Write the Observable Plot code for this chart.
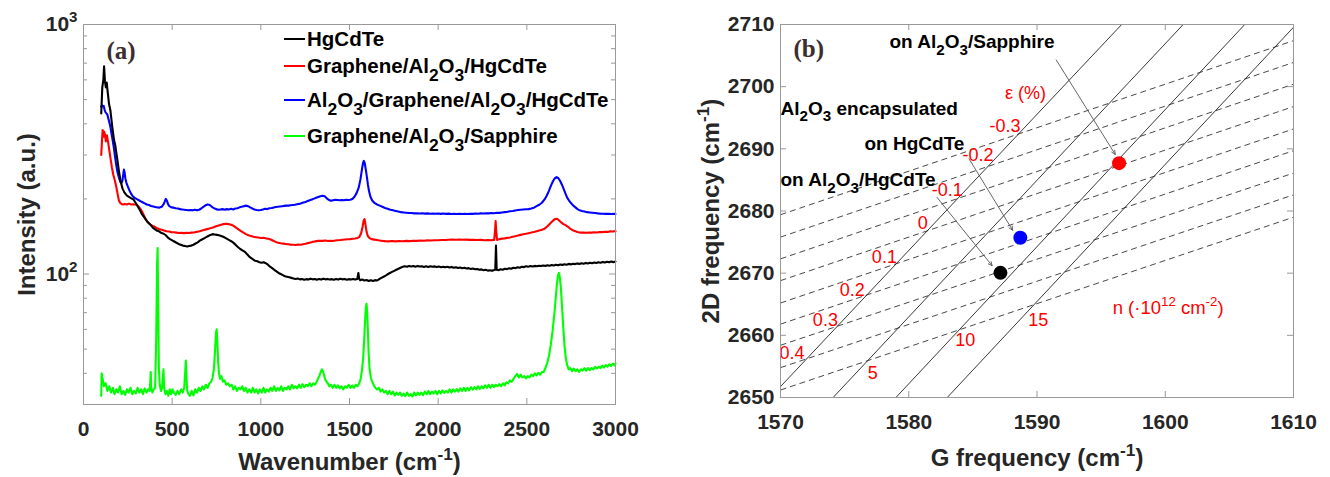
<!DOCTYPE html>
<html>
<head>
<meta charset="utf-8">
<script src="https://cdn.jsdelivr.net/npm/d3@7"></script>
<script src="https://cdn.jsdelivr.net/npm/@observablehq/plot@0.6"></script>
<style>
  html, body { margin: 0; padding: 0; background: #fff; }
  #wrap { display: flex; width: 1330px; height: 477px; }
  #wrap svg { display: block; }
</style>
</head>
<body>
<div id="wrap"></div>
<script>
// ---------- Panel (a): Raman spectra, [wavenumber cm^-1, intensity a.u.] ----------
const seriesNames = ["HgCdTe", "Graphene/Al_{2}O_{3}/HgCdTe", "Al_{2}O_{3}/Graphene/Al_{2}O_{3}/HgCdTe", "Graphene/Al_{2}O_{3}/Sapphire"];
const seriesColors = ["#000000", "#ff0000", "#0000ff", "#00ff00"];

const hgcdte = [[100,440],[106,560],[112,600],[116,680],[121,590],[126,560],[131,585],[136,540],[144,480],[152,451],[162,390],[172,345],[180,325],[190,290],[200,258],[209,236],[220,220],[231,212],[245,206],[265,202],[282,199],[300,190],[315,182],[329,174],[345,168],[360,162],[376,158],[392,153],[404,151],[416,149],[428,148],[440,146],[452,145],[464,143],[476,140],[488,138],[500,136.5],[512,135],[524,133.5],[536,132],[548,131],[560,130],[572,129.5],[584,129],[596,129.5],[608,130],[620,131],[632,132.5],[644,134],[656,136],[668,137.5],[680,139],[692,140.5],[704,142],[716,143.5],[728,144.5],[740,144],[752,143.5],[764,143],[776,142],[788,141],[800,139.5],[812,138],[824,136.5],[836,135],[848,133],[860,130.5],[872,128],[884,126],[896,124.5],[908,123],[920,120.5],[932,118],[944,116],[956,114.5],[968,113],[980,112.5],[992,111.5],[1004,111],[1016,111.5],[1028,110.5],[1040,109],[1052,107],[1064,105.5],[1076,104],[1088,102.5],[1100,101],[1112,100],[1124,99],[1136,98],[1148,97.5],[1160,97],[1172,96.5],[1184,96],[1196,95.5],[1208,96],[1220,95.2],[1232,95.6],[1244,94.8],[1256,95.4],[1268,95],[1280,95.8],[1292,95.2],[1304,95.5],[1316,94.8],[1328,95.6],[1340,95],[1352,95.8],[1364,95.2],[1376,95.6],[1388,95],[1400,95.4],[1412,94.8],[1424,95.5],[1436,95],[1448,95.8],[1460,95.2],[1472,95.6],[1484,94.8],[1496,95.4],[1508,95],[1520,95.6],[1532,95],[1544,95.5],[1550,101],[1554,96],[1560,94.5],[1572,95],[1584,94.2],[1596,94.6],[1608,93.8],[1620,94.5],[1632,93.8],[1644,94.5],[1656,94.2],[1668,95.5],[1680,96.5],[1692,97.5],[1704,98.5],[1716,99.8],[1728,101],[1740,102],[1752,103],[1764,104],[1776,105],[1788,106],[1800,107],[1812,107.5],[1824,107],[1836,107.8],[1848,107.2],[1860,107.6],[1872,107],[1884,107.8],[1896,107.2],[1908,107.5],[1920,106.8],[1932,107.4],[1944,106.8],[1956,107.5],[1968,106.9],[1980,107.3],[1992,106.6],[2004,107.2],[2016,106.5],[2028,107],[2040,106.4],[2052,106.9],[2064,106.2],[2076,106.8],[2088,106],[2100,106.5],[2112,105.8],[2124,106.2],[2136,105.5],[2148,106],[2160,105.2],[2172,105.6],[2184,104.8],[2196,105.2],[2208,104.5],[2220,104.8],[2232,104],[2244,104.4],[2256,103.6],[2268,104],[2280,103.2],[2292,103.6],[2304,103],[2316,103.8],[2322,104],[2326,130],[2330,104],[2340,103.6],[2352,104.5],[2364,104],[2376,105],[2388,104.6],[2400,105.5],[2412,105],[2424,106],[2436,105.6],[2448,106.5],[2460,106],[2472,107],[2484,106.6],[2496,107.4],[2508,107],[2520,107.6],[2532,107.2],[2544,107.8],[2556,107.4],[2568,108],[2580,107.6],[2592,108.2],[2604,107.8],[2616,108.4],[2628,108],[2640,108.6],[2652,108.2],[2664,108.9],[2676,108.5],[2688,109.2],[2700,108.8],[2712,109.5],[2724,109],[2736,109.8],[2748,109.3],[2760,110],[2772,109.6],[2784,110.3],[2796,109.8],[2808,110.5],[2820,110],[2832,110.8],[2844,110.2],[2856,111],[2868,110.5],[2880,111.2],[2892,110.7],[2904,111.5],[2916,111],[2928,111.7],[2940,111.2],[2952,112],[2964,111.4],[2976,112.2],[2988,111.6],[3000,112.3]];

const grOnAlHgCdTe = [[100,300],[104,340],[108,378],[112,355],[116,372],[120,365],[126,340],[132,360],[138,340],[145,315],[152,292],[160,268],[168,250],[176,238],[184,225],[192,210],[199,198],[206,193],[214,191],[222,190],[232,191],[244,190],[256,191.5],[268,190],[280,190.5],[292,190],[301,189],[312,186],[322,182],[330,178],[340,172],[350,166],[360,162],[372,159],[385,156.5],[398,155],[412,153],[426,151.5],[440,150.5],[454,149.5],[468,148.5],[482,148],[496,147.2],[510,147],[524,146.5],[538,146],[552,146.2],[566,145.8],[580,146.2],[594,146],[608,146.5],[622,146.8],[636,147.5],[650,148],[664,149],[678,150],[692,151],[706,152],[720,153],[734,154],[748,155.5],[762,156.5],[776,157.5],[790,158.5],[804,159],[818,158.5],[832,157.5],[846,156],[860,153.5],[874,151],[888,148.5],[902,146.5],[916,144.5],[930,143],[944,142],[958,141],[972,140.5],[986,140],[1000,139.5],[1014,139.8],[1028,139],[1042,138.5],[1056,137.5],[1070,136],[1084,134.5],[1098,133.5],[1112,132.8],[1126,132.4],[1140,132],[1154,131.6],[1168,131.2],[1182,131],[1196,130.8],[1210,131.2],[1224,131],[1238,131.6],[1252,132.2],[1266,133],[1280,133.8],[1294,134.6],[1308,135.2],[1322,135.8],[1336,136],[1350,135.8],[1364,136.2],[1378,135.6],[1392,136],[1406,135.6],[1420,136.2],[1434,136.5],[1448,136.8],[1462,137.2],[1476,137.5],[1490,137.8],[1504,138],[1518,138.4],[1532,138.8],[1546,139.5],[1556,141],[1566,146],[1574,155],[1580,164],[1585,166],[1590,158],[1596,148],[1603,142],[1612,139.5],[1625,138],[1640,137.4],[1655,136.8],[1670,136.2],[1685,135.8],[1700,135.5],[1720,135.2],[1740,135.6],[1760,135.2],[1780,135.6],[1800,135.4],[1820,135.8],[1840,135.5],[1860,136],[1880,135.8],[1900,136.2],[1920,136],[1940,136.4],[1960,136.2],[1980,136.6],[2000,136.5],[2020,136.9],[2040,136.8],[2060,137.2],[2080,137.4],[2100,137.2],[2120,137.5],[2140,137.2],[2160,137.4],[2180,137],[2200,137.2],[2220,136.8],[2240,137],[2260,136.6],[2280,136.8],[2300,136.6],[2316,137],[2321,150],[2324,163],[2327,150],[2332,137],[2345,138],[2360,138.6],[2375,139],[2390,139.6],[2405,140.2],[2420,141],[2435,141.8],[2450,142.6],[2465,143.5],[2480,144.3],[2495,145],[2510,145.8],[2525,146.6],[2540,147.5],[2555,148.5],[2570,149.5],[2585,150.5],[2600,152],[2615,155],[2630,159],[2645,163],[2658,166],[2670,166.5],[2682,164],[2694,161],[2706,158.5],[2718,157],[2730,155],[2742,152.5],[2754,150.5],[2766,149],[2778,148],[2790,147],[2805,146.5],[2820,146.8],[2835,146.4],[2850,146.8],[2865,146.5],[2880,147],[2895,146.8],[2910,147.4],[2925,147.2],[2940,147.8],[2955,147.5],[2970,148.2],[2985,148],[3000,148.6]];

const encapsulated = [[100,469],[104,475],[108,470],[114,472],[119,455],[124,445],[129,440],[134,437],[140,420],[146,405],[152,387],[158,365],[164,345],[171,321],[178,295],[185,272],[192,255],[200,243],[209,233],[215,232],[220,238],[224,250],[228,262],[232,255],[236,242],[242,232],[248,226],[255,220],[262,214],[270,209],[278,205],[288,202],[298,200],[310,198],[321,196],[333,194],[345,192],[357,190],[369,189],[381,187.5],[393,186.5],[405,185.5],[417,185],[429,184.6],[441,186],[451,190],[458,195],[464,200],[470,197],[476,191],[484,187],[496,185],[508,184.5],[520,183.5],[532,183],[544,182],[556,181.5],[568,181],[580,180.5],[592,180],[604,180.5],[616,180],[628,181],[640,180],[652,181],[664,183],[676,186],[688,188.5],[700,190],[712,189],[724,186],[736,183.5],[748,182],[760,181],[772,181.5],[784,182],[796,181],[808,182],[820,181.5],[832,182.5],[844,181.5],[856,183],[868,183.5],[880,185],[892,186],[904,187],[916,188],[928,187],[940,185],[952,183],[964,181.5],[976,180.5],[988,180],[1000,180.5],[1012,181.5],[1024,182.5],[1036,182],[1048,183.5],[1060,184],[1072,184.6],[1084,185.5],[1096,186],[1108,186.5],[1120,187],[1132,187.5],[1144,188],[1156,188],[1168,188.5],[1180,189],[1192,189.5],[1204,190.5],[1216,191],[1228,192],[1240,193.5],[1252,194.5],[1264,196],[1276,197.5],[1288,199],[1300,200.5],[1312,202],[1324,203.5],[1336,205],[1348,206],[1360,205],[1372,201],[1384,198],[1396,196.5],[1408,197.5],[1420,198.5],[1432,198],[1444,197.5],[1456,198],[1468,197.5],[1480,198.5],[1492,198],[1504,198.5],[1516,200],[1528,204],[1540,211],[1552,222],[1562,240],[1570,262],[1576,278],[1581,284],[1586,278],[1592,262],[1598,245],[1604,228],[1610,215],[1618,204],[1628,197],[1640,193],[1655,190],[1670,188],[1685,186],[1700,184],[1715,182.5],[1730,181],[1745,180],[1760,179],[1775,178],[1790,177],[1805,176.5],[1820,176],[1835,175.5],[1850,175.5],[1865,175],[1880,175.3],[1895,174.8],[1910,175.2],[1925,174.6],[1940,175],[1955,174.5],[1970,174.9],[1985,174.3],[2000,174.8],[2015,174.2],[2030,174.7],[2045,174.2],[2060,174.6],[2075,174],[2090,174.5],[2105,174],[2120,174.5],[2135,174],[2150,174.4],[2165,174],[2180,174.5],[2195,174.2],[2210,174.7],[2225,174.4],[2240,175],[2255,174.7],[2270,175.3],[2285,175],[2300,175.6],[2315,175.3],[2330,176],[2345,175.8],[2360,176.5],[2375,177],[2390,177.5],[2405,178.5],[2420,179],[2435,179.8],[2450,180.5],[2465,181],[2480,181.5],[2495,181.8],[2510,182],[2525,183],[2540,184.5],[2555,187],[2570,189.5],[2585,193],[2600,199],[2612,206],[2624,215],[2636,226],[2648,236],[2658,242],[2668,244.5],[2678,242],[2688,236],[2698,228],[2708,219],[2718,210],[2728,202],[2738,197],[2750,192],[2762,188],[2774,185],[2786,182],[2798,180],[2810,179],[2825,178],[2840,177],[2855,176.5],[2870,176],[2885,175.5],[2900,175],[2915,174.6],[2930,174.5],[2945,174.2],[2960,174.4],[2975,174],[2990,174.2],[3000,174]];

const grOnSapphire = [[100,32.5],[102,40],[108,38],[115,35.5],[125,36.5],[135,34],[145,35.5],[155,33.5],[165,35],[175,33],[185,34.5],[195,33.5],[205,35.5],[215,33],[225,34],[235,32.8],[245,34.5],[255,33.5],[265,35],[275,33],[285,34],[295,33.2],[305,35],[315,33.5],[325,34.5],[335,33],[345,34.8],[355,33.5],[365,34.5],[372,34],[376,36],[379,40.5],[382,35],[388,33.5],[396,34.5],[404,35],[410,55],[415,110],[418,127],[421,75],[425,42],[430,36],[437,34],[443,35],[447,38],[451,41.5],[455,35],[462,33],[470,34],[478,32.5],[486,34.5],[494,33],[502,34.5],[510,33.5],[520,32.8],[530,34],[540,33],[550,34.5],[560,33.5],[568,35],[573,40],[577,45],[581,38],[585,34],[592,33],[600,32.5],[610,34],[620,32.6],[630,34.5],[640,33.5],[650,35],[660,34],[670,35.5],[680,34.5],[690,36],[700,35],[710,36.5],[720,37],[728,38.5],[736,42],[742,50],[747,58],[751,60],[755,53],[759,45],[764,40],[770,38],[778,39],[786,37],[795,37.5],[805,36],[815,36.5],[825,35.5],[835,36],[845,34.5],[855,35.5],[865,34],[875,35],[885,34.5],[895,35.5],[905,34],[915,35],[925,33.5],[935,34.5],[945,33.5],[955,35],[965,33.5],[975,34.5],[985,33.2],[995,34.5],[1005,33.5],[1015,35],[1025,33.5],[1035,34.5],[1045,33.8],[1055,35],[1065,34],[1075,35.5],[1085,34],[1095,35],[1105,34.2],[1115,35.5],[1125,34],[1135,35],[1145,34.5],[1155,35.5],[1165,34.5],[1175,36],[1185,34.8],[1195,35.5],[1205,34.8],[1215,36],[1225,35],[1235,36.2],[1245,35.2],[1255,36],[1265,35.5],[1275,36.5],[1285,35.5],[1295,36.5],[1305,36],[1315,37],[1322,38],[1330,39],[1338,40.5],[1344,41.5],[1350,40.8],[1356,39.5],[1362,38],[1370,37],[1378,36.5],[1386,35.5],[1395,36],[1405,35],[1415,36],[1425,35],[1435,35.8],[1445,34.8],[1455,35.5],[1465,34.5],[1475,35.5],[1485,35],[1495,36],[1505,35],[1515,35.8],[1525,35],[1535,36],[1545,35.5],[1555,36.5],[1563,38],[1570,41],[1577,46],[1583,55],[1588,65],[1592,73],[1596,76],[1600,70],[1604,58],[1608,48],[1613,42],[1620,38.5],[1628,37],[1636,36],[1645,35],[1655,34.5],[1665,35],[1675,33.8],[1685,34.5],[1695,33.5],[1705,34],[1715,33],[1725,34],[1735,33],[1745,33.8],[1755,32.6],[1765,33.5],[1775,32.8],[1785,33.5],[1795,32.5],[1805,33.2],[1815,32.4],[1825,33.5],[1835,32.5],[1845,33],[1855,32.3],[1865,33.5],[1875,32.6],[1885,33.5],[1895,32.8],[1905,33.5],[1915,32.7],[1925,33.8],[1935,33],[1945,34],[1955,33],[1965,33.8],[1975,33.2],[1985,34],[1995,33],[2005,34],[2015,33.2],[2025,34.2],[2035,33.4],[2045,34],[2055,33.5],[2065,34.5],[2075,33.5],[2085,34.5],[2095,33.8],[2105,34.6],[2115,33.8],[2125,34.8],[2135,34],[2145,35],[2155,34],[2165,35],[2175,34.2],[2185,35.2],[2195,34.4],[2205,35.2],[2215,34.5],[2225,35.5],[2235,34.6],[2245,35.5],[2255,34.8],[2265,35.8],[2275,35],[2285,36],[2295,35],[2305,36],[2315,35.2],[2325,36],[2335,35.5],[2345,36.2],[2355,35.5],[2365,36.5],[2375,35.8],[2385,36.8],[2395,36.5],[2405,37.5],[2415,37],[2425,38],[2435,39],[2445,39.8],[2455,38.5],[2465,39.5],[2475,38.5],[2485,39],[2495,38.2],[2505,39],[2515,38.5],[2525,39.5],[2535,39],[2545,40],[2555,39.2],[2565,40.2],[2575,39.5],[2585,40.5],[2595,40.5],[2605,42],[2615,44],[2625,47],[2635,52],[2645,59],[2655,69],[2663,80],[2670,92],[2676,99],[2681,101],[2686,97],[2692,88],[2698,75],[2705,62],[2712,52],[2720,46],[2728,43],[2736,41.5],[2745,42],[2755,40.8],[2765,41.8],[2775,40.8],[2785,41.5],[2795,40.5],[2805,41.5],[2815,41],[2825,42],[2835,41],[2845,42],[2855,41.2],[2865,42],[2875,41.5],[2885,42.5],[2895,41.8],[2905,42.5],[2915,42],[2925,43],[2935,42.2],[2945,43.2],[2955,42.5],[2965,43.5],[2975,42.8],[2985,43.8],[2995,43],[3000,43.8]];

const spectraA = [hgcdte, grOnAlHgCdTe, encapsulated, grOnSapphire];
const xTicksA = [0, 500, 1000, 1500, 2000, 2500, 3000];
const yMajorA = [100, 1000];
const yMinorA = [40, 50, 60, 70, 80, 90, 200, 300, 400, 500, 600, 700, 800, 900];

// ---------- Panel (b): strain–doping grid, G vs 2D frequency ----------
// strain lines (constant doping n): G where 2D = 2650 and where 2D = 2710
const nLineG0 = [1569.2, 1574.1, 1579.0, 1583.0];
const nLineG1 = [1596.6, 1601.4, 1606.2, 1610.2];
// doping lines (constant strain ε): 2D where G = 1570 and where G = 1610
const epsLine2D0 = [2679.4, 2675.8, 2672.3, 2668.8, 2665.2, 2661.8, 2658.4, 2654.8, 2651.2];
const epsLine2D1 = [2707.4, 2703.9, 2700.4, 2696.8, 2693.2, 2689.7, 2686.1, 2682.6, 2679.0];

const epsLabels = ["-0.3", "-0.2", "-0.1", "0", "0.1", "0.2", "0.3", "0.4"];
const epsLabelG = [1587.5, 1585.4, 1583.0, 1581.1, 1578.1, 1575.6, 1573.5, 1570.9];
const epsLabel2D = [2693.6, 2688.9, 2683.3, 2678.0, 2672.5, 2667.3, 2662.4, 2657.2];
const nLabels = ["5", "10", "15"];
const nLabelG = [1577.2, 1584.4, 1590.1];
const nLabel2D = [2653.9, 2659.2, 2662.5];

const sampleG = [1596.4, 1588.7, 1587.15];
const sample2D = [2687.7, 2675.7, 2670.05];
const sampleColors = ["#ff0000", "#0000ff", "#000000"];

const noteTexts = ["on Al_{2}O_{3}/Sapphire", "Al_{2}O_{3} encapsulated", "on HgCdTe", "on Al_{2}O_{3}/HgCdTe"];
const noteG = [1578.5, 1570.0, 1576.55, 1570.0];
const note2D = [2707.15, 2696.5, 2690.8, 2685.0];

const arrowFromG = [1591.5, 1584.7, 1582.2];
const arrowFrom2D = [2704.3, 2688.4, 2682.2];
const arrowToG = [1596.1, 1588.1, 1586.5];
const arrowTo2D = [2689.1, 2676.9, 2671.2];

const xTicksB = [1570, 1580, 1590, 1600, 1610];
const yTicksB = [2650, 2660, 2670, 2680, 2690, 2700, 2710];

// ---------- shared styling ----------
const SANS = "'Liberation Sans', Arial, Helvetica, sans-serif";
const SERIF = "'Liberation Serif', 'Times New Roman', serif";
const AXIS = "#999999";
const svgStyle = `font-family:${SANS};font-size:21px;font-weight:bold;color:#262626;background:#fff;overflow:visible;`;

// Turn ^{..} / _{..} markup inside <text> into raised / lowered tspans.
function richText(svg) {
  const NS = "http://www.w3.org/2000/svg";
  svg.querySelectorAll("text").forEach(t => {
    const s = t.textContent;
    if (!/[\^_]\{/.test(s)) return;
    const fs = parseFloat(getComputedStyle(t).fontSize) || 16;
    const sub = +(t.getAttribute("data-sub") || 0.8);
    const sup = 0.72;
    const parts = [];
    const re = /([\^_])\{([^}]*)\}/g;
    let last = 0, m;
    while ((m = re.exec(s))) {
      if (m.index > last) parts.push({txt: s.slice(last, m.index), kind: ""});
      parts.push({txt: m[2], kind: m[1]});
      last = re.lastIndex;
    }
    if (last < s.length) parts.push({txt: s.slice(last), kind: ""});
    while (t.firstChild) t.removeChild(t.firstChild);
    let shift = 0;
    for (const p of parts) {
      const ts = document.createElementNS(NS, "tspan");
      let target = 0;
      if (p.kind === "^") { target = -0.44 * fs; ts.setAttribute("font-size", (sup * fs) + "px"); }
      else if (p.kind === "_") { target = 0.36 * fs; ts.setAttribute("font-size", (sub * fs) + "px"); }
      const dy = target - shift;
      if (dy) ts.setAttribute("dy", dy.toFixed(2));
      shift = target;
      ts.textContent = p.txt;
      t.appendChild(ts);
    }
  });
}

// ---------- Panel (a) ----------
const A = {w: 665, h: 477, ml: 83, mr: 50, mt: 24, mb: 73};
const fwA = A.w - A.ml - A.mr, fhA = A.h - A.mt - A.mb;

const linesA = spectraA.map((s, i) =>
  Plot.line(s, {x: d => d[0], y: d => d[1], stroke: seriesColors[i], strokeWidth: 2.1, strokeLinejoin: "round"})
);
// draw order: green at the back, black on top
const drawOrder = [3, 1, 2, 0];

function legendA(index, scales, values, dims) {
  const g = d3.create("svg:g").attr("text-anchor", "start");
  const rowY = [15, 42, 76, 112];
  const x0 = dims.marginLeft + 201, x1 = dims.marginLeft + 222, xt = dims.marginLeft + 224;
  seriesNames.forEach((name, i) => {
    const y = dims.marginTop + rowY[i];
    g.append("line").attr("x1", x0).attr("x2", x1).attr("y1", y).attr("y2", y)
      .attr("stroke", seriesColors[i]).attr("stroke-width", 2);
    g.append("text").attr("x", xt).attr("y", y).attr("dy", "0.35em")
      .attr("text-anchor", "start")
      .attr("font-size", 20.5).attr("font-weight", "bold").attr("fill", "#000")
      .attr("data-sub", 0.85).text(name);
  });
  return g.node();
}

const plotA = Plot.plot({
  width: A.w, height: A.h,
  marginLeft: A.ml, marginRight: A.mr, marginTop: A.mt, marginBottom: A.mb,
  style: svgStyle,
  x: {domain: [0, 3000]},
  y: {type: "log", domain: [30, 1000]},
  marks: [
    ...drawOrder.map(i => linesA[i]),
    Plot.frame({stroke: AXIS}),
    Plot.tickX(xTicksA, {x: d => d, insetTop: fhA - 6, stroke: AXIS}),
    Plot.tickX(xTicksA, {x: d => d, insetBottom: fhA - 6, stroke: AXIS}),
    Plot.tickY(yMajorA, {y: d => d, insetRight: fwA - 6, stroke: AXIS}),
    Plot.tickY(yMajorA, {y: d => d, insetLeft: fwA - 6, stroke: AXIS}),
    Plot.tickY(yMinorA, {y: d => d, insetRight: fwA - 4, stroke: AXIS}),
    Plot.tickY(yMinorA, {y: d => d, insetLeft: fwA - 4, stroke: AXIS}),
    Plot.axisX(xTicksA, {tickSize: 0, tickPadding: 17, tickFormat: d => String(d), label: null}),
    Plot.axisY(yMajorA, {tickSize: 0, tickPadding: 6, tickFormat: d => "10^{" + Math.round(Math.log10(d)) + "}", label: null}),
    Plot.text(["Wavenumber (cm^{-1})"], {text: d => d, frameAnchor: "bottom", dy: 58, textAnchor: "middle", lineAnchor: "middle", fontSize: 24, fontWeight: "bold", fill: "#262626"}),
    Plot.text(["Intensity (a.u.)"], {text: d => d, frameAnchor: "left", dx: -56, rotate: -90, textAnchor: "middle", lineAnchor: "middle", fontSize: 24, fontWeight: "bold", fill: "#262626"}),
    Plot.text(["(a)"], {text: d => d, frameAnchor: "top-left", dx: 23, dy: 26, textAnchor: "start", lineAnchor: "middle", fontFamily: SERIF, fontSize: 25, fontWeight: "bold", fill: "#3a2e2e"}),
    legendA
  ]
});

// ---------- Panel (b) ----------
const B = {w: 665, h: 477, ml: 115, mr: 37, mt: 24, mb: 80};
const fwB = B.w - B.ml - B.mr, fhB = B.h - B.mt - B.mb;

const nLines = nLineG0.map((g0, i) => ({g0, g1: nLineG1[i]}));
const epsLines = epsLine2D0.map((d0, i) => ({d0, d1: epsLine2D1[i]}));
const epsLabelRows = epsLabels.map((t, i) => ({t, g: epsLabelG[i], d: epsLabel2D[i]}));
const nLabelRows = nLabels.map((t, i) => ({t, g: nLabelG[i], d: nLabel2D[i]}));
const samples = sampleG.map((g, i) => ({g, d: sample2D[i], c: sampleColors[i]}));
const notes = noteTexts.map((t, i) => ({t, g: noteG[i], d: note2D[i]}));
const arrows = arrowFromG.map((g, i) => ({x1: g, y1: arrowFrom2D[i], x2: arrowToG[i], y2: arrowTo2D[i]}));

const plotB = Plot.plot({
  width: B.w, height: B.h,
  marginLeft: B.ml, marginRight: B.mr, marginTop: B.mt, marginBottom: B.mb,
  style: svgStyle,
  x: {domain: [1570, 1610]},
  y: {domain: [2650, 2710]},
  marks: [
    Plot.link(epsLines, {x1: 1570, x2: 1610, y1: "d0", y2: "d1", stroke: "#333", strokeWidth: 0.9, strokeDasharray: "6,4", clip: true}),
    Plot.link(nLines, {x1: "g0", x2: "g1", y1: 2650, y2: 2710, stroke: "#222", strokeWidth: 0.9, clip: true}),
    Plot.arrow(arrows, {x1: "x1", y1: "y1", x2: "x2", y2: "y2", stroke: "#555", strokeWidth: 0.9, headLength: 7, headAngle: 50}),
    Plot.dot(samples, {x: "g", y: "d", r: 7, fill: "c", stroke: null}),
    Plot.text(epsLabelRows, {x: "g", y: "d", text: "t", fill: "#ff0000", fontSize: 18, fontWeight: "normal"}),
    Plot.text(nLabelRows, {x: "g", y: "d", text: "t", fill: "#ff0000", fontSize: 18, fontWeight: "normal"}),
    Plot.text(["ε (%)"], {text: d => d, x: 1587.5, y: 2699.0, textAnchor: "start", fill: "#ff0000", fontSize: 18, fontWeight: "normal"}),
    Plot.text(["n (·10^{12} cm^{-2})"], {text: d => d, x: 1595.9, y: 2664.4, textAnchor: "start", fill: "#ff0000", fontSize: 18.5, fontWeight: "normal"}),
    Plot.text(notes, {x: "g", y: "d", text: "t", textAnchor: "start", fill: "#000", fontSize: 19, fontWeight: "bold"}),
    Plot.frame({stroke: AXIS}),
    Plot.tickX(xTicksB, {x: d => d, insetTop: fhB - 6, stroke: AXIS}),
    Plot.tickX(xTicksB, {x: d => d, insetBottom: fhB - 6, stroke: AXIS}),
    Plot.tickY(yTicksB, {y: d => d, insetRight: fwB - 6, stroke: AXIS}),
    Plot.tickY(yTicksB, {y: d => d, insetLeft: fwB - 6, stroke: AXIS}),
    Plot.axisX(xTicksB, {tickSize: 0, tickPadding: 17, tickFormat: d => String(d), label: null}),
    Plot.axisY(yTicksB, {tickSize: 0, tickPadding: 6, tickFormat: d => String(d), label: null}),
    Plot.text(["G frequency (cm^{-1})"], {text: d => d, frameAnchor: "bottom", dy: 61, textAnchor: "middle", lineAnchor: "middle", fontSize: 24, fontWeight: "bold", fill: "#262626"}),
    Plot.text(["2D frequency (cm^{-1})"], {text: d => d, frameAnchor: "left", dx: -69, rotate: -90, textAnchor: "middle", lineAnchor: "middle", fontSize: 24, fontWeight: "bold", fill: "#262626"}),
    Plot.text(["(b)"], {text: d => d, frameAnchor: "top-left", dx: 13, dy: 24, textAnchor: "start", lineAnchor: "middle", fontFamily: SERIF, fontSize: 25, fontWeight: "bold", fill: "#3a2e2e"})
  ]
});

const wrap = document.getElementById("wrap");
wrap.appendChild(plotA);
wrap.appendChild(plotB);
richText(plotA);
richText(plotB);
</script>
</body>
</html>
